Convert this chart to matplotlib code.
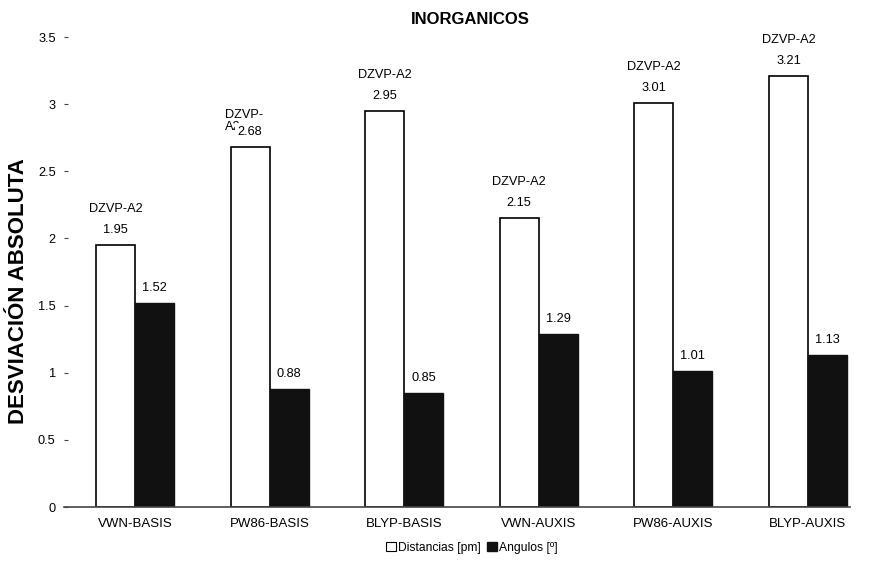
import matplotlib
matplotlib.use("Agg")
import matplotlib.pyplot as plt
from matplotlib.patches import Patch
import numpy as np

plt.rcParams['font.family'] = ['Liberation Sans', 'DejaVu Sans']

categories = ["VWN-BASIS", "PW86-BASIS", "BLYP-BASIS", "VWN-AUXIS", "PW86-AUXIS", "BLYP-AUXIS"]
distancias = [1.95, 2.68, 2.95, 2.15, 3.01, 3.21]
angulos = [1.52, 0.88, 0.85, 1.29, 1.01, 1.13]
basis_labels = ["DZVP-A2", "DZVP-\nA2", "DZVP-A2", "DZVP-A2", "DZVP-A2", "DZVP-A2"]
yticks = [0, 0.5, 1, 1.5, 2, 2.5, 3, 3.5]
ytick_labels = ["0", "0.5", "1", "1.5", "2", "2.5", "3", "3.5"]

fig = plt.figure(figsize=(8.73, 5.66), dpi=100)
ax = fig.add_axes([64/873, 1-507/566, (850-64)/873, (507-37)/566])

x = np.arange(len(categories))
w = 0.29
ax.bar(x - w/2, distancias, w, color='white', edgecolor='black', linewidth=1.2, zorder=2)
ax.bar(x + w/2, angulos, w, color='#111111', edgecolor='#111111', linewidth=1.0, zorder=2)

px = 3.5/470.0
fs = 9.2
for i in range(len(categories)):
    d = distancias[i]
    if "\n" in basis_labels[i]:
        ax.text(x[i] - w/2 - 0.19, d + 14*px, basis_labels[i], ha='left', va='bottom',
                fontsize=fs, linespacing=1.0, zorder=3, multialignment='left')
    else:
        ax.text(x[i] - w/2, d + 30*px, basis_labels[i], ha='center', va='bottom', fontsize=fs, zorder=3)
    ax.text(x[i] - w/2, d + 9*px, f"{d:.2f}", ha='center', va='bottom', fontsize=fs, zorder=4,
            bbox=dict(facecolor='white', edgecolor='none', pad=2.0))
    a = angulos[i]
    ax.text(x[i] + w/2, a + 9*px, f"{a:.2f}", ha='center', va='bottom', fontsize=fs, zorder=4)

ax.set_xlim((64-135)/134.6, (850-135)/134.6)
ax.set_ylim(0, 3.5)
ax.set_yticks(yticks)
ax.set_yticklabels(ytick_labels, fontsize=fs)
ax.set_xticks(x)
ax.set_xticklabels(categories, fontsize=9.5)
ax.tick_params(axis='x', length=0, pad=8)
ax.tick_params(axis='y', length=3, width=0.8, pad=6, direction='in', color='#444444')
for s in ['top', 'right', 'left']:
    ax.spines[s].set_visible(False)
ax.spines['bottom'].set_color('#444444')
ax.spines['bottom'].set_linewidth(1.2)

ax.set_ylabel("DESVIACIÓN ABSOLUTA", fontsize=16, fontweight='bold')
ax.yaxis.set_label_coords((29-64)/786, (507-291)/470)
fig.text(470/873, 1-20/566, "INORGANICOS", ha='center', va='center', fontsize=12, fontweight='bold')

handles = [Patch(facecolor='white', edgecolor='black', linewidth=0.8, label='Distancias [pm]'),
           Patch(facecolor='#111111', edgecolor='#111111', label='Angulos [º]')]
fig.legend(handles=handles, loc='center', bbox_to_anchor=(472/873, 1-548/566), ncol=2,
           frameon=False, fontsize=8.7, handlelength=0.8, handleheight=0.8, handletextpad=0.2,
           columnspacing=0.5, borderpad=0)

fig.savefig("out.png", dpi=100)
